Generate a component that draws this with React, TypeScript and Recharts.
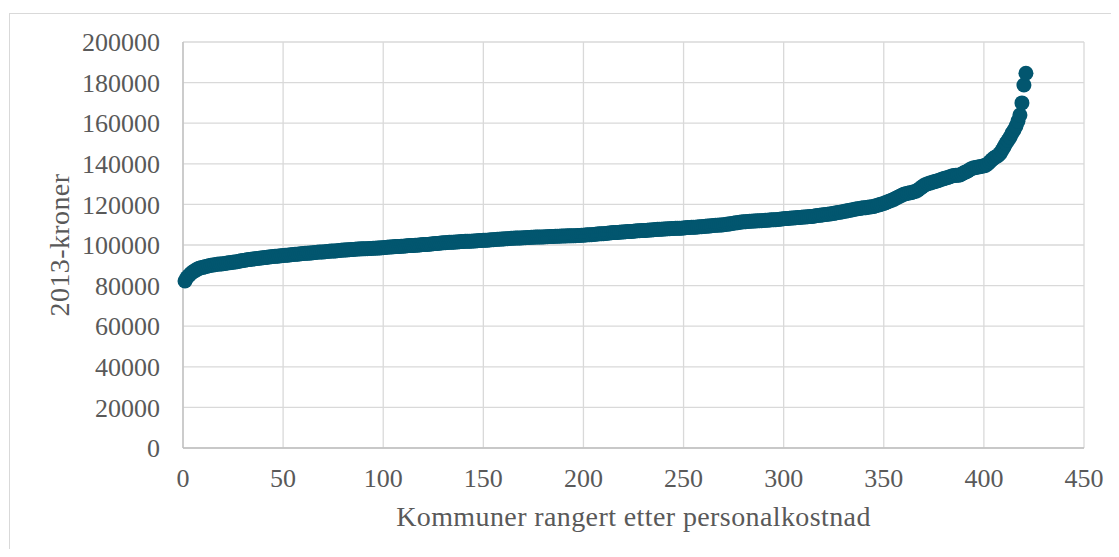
import React from "react";
import { ScatterChart, Scatter, XAxis, YAxis, CartesianGrid } from "recharts";

// Personalkostnad per kommune (2013-kroner), sortert stigende, rang 1..421
const values: number[] = [
  82300, 84000, 85000, 86000, 86800, 87400, 88000, 88500, 88800, 89000,
  89300, 89500, 89800, 90000, 90200, 90300, 90500, 90600, 90700, 90800,
  90900, 91100, 91200, 91400, 91500, 91600, 91800, 92000, 92200, 92400,
  92500, 92700, 92800, 93000, 93100, 93200, 93400, 93500, 93600, 93700,
  93800, 94000, 94100, 94200, 94300, 94400, 94500, 94600, 94700, 94800,
  94900, 95000, 95100, 95200, 95300, 95400, 95500, 95600, 95700, 95800,
  95900, 95900, 96000, 96100, 96200, 96300, 96400, 96500, 96600, 96600,
  96700, 96800, 96900, 97000, 97000, 97100, 97200, 97300, 97400, 97500,
  97500, 97600, 97700, 97800, 97800, 97900, 98000, 98000, 98100, 98100,
  98200, 98200, 98300, 98300, 98400, 98400, 98500, 98500, 98600, 98700,
  98800, 98900, 99000, 99000, 99100, 99200, 99200, 99300, 99400, 99400,
  99500, 99600, 99700, 99700, 99800, 99900, 99900, 100000, 100100, 100200,
  100300, 100300, 100400, 100500, 100600, 100700, 100800, 100900, 101000, 101100,
  101100, 101200, 101300, 101300, 101400, 101500, 101500, 101600, 101700, 101700,
  101800, 101800, 101900, 101900, 102000, 102000, 102100, 102200, 102200, 102300,
  102400, 102400, 102500, 102600, 102600, 102700, 102800, 102800, 102900, 103000,
  103100, 103100, 103200, 103300, 103300, 103400, 103400, 103500, 103500, 103600,
  103600, 103700, 103700, 103800, 103800, 103900, 103900, 104000, 104000, 104000,
  104100, 104100, 104200, 104200, 104200, 104300, 104300, 104300, 104400, 104400,
  104400, 104500, 104500, 104500, 104600, 104600, 104700, 104700, 104800, 104800,
  104900, 105000, 105100, 105100, 105200, 105300, 105400, 105500, 105600, 105600,
  105700, 105800, 105900, 106000, 106100, 106100, 106200, 106300, 106400, 106400,
  106500, 106600, 106700, 106700, 106800, 106900, 107000, 107000, 107100, 107100,
  107200, 107300, 107400, 107400, 107500, 107600, 107700, 107700, 107800, 107900,
  107900, 108000, 108000, 108100, 108100, 108200, 108200, 108300, 108300, 108400,
  108500, 108600, 108600, 108700, 108800, 108800, 108900, 109000, 109000, 109100,
  109200, 109300, 109400, 109500, 109600, 109700, 109700, 109800, 109900, 110000,
  110100, 110300, 110400, 110600, 110700, 110900, 111000, 111200, 111300, 111400,
  111500, 111600, 111700, 111700, 111800, 111800, 111900, 112000, 112000, 112100,
  112200, 112200, 112300, 112400, 112500, 112500, 112600, 112700, 112800, 112900,
  113000, 113100, 113200, 113300, 113300, 113400, 113500, 113600, 113700, 113800,
  113800, 113900, 114000, 114100, 114200, 114400, 114500, 114600, 114800, 114900,
  115000, 115200, 115300, 115400, 115600, 115800, 116000, 116100, 116300, 116500,
  116700, 116900, 117100, 117300, 117500, 117700, 117900, 118000, 118200, 118300,
  118400, 118600, 118700, 118900, 119000, 119300, 119600, 119900, 120200, 120500,
  120900, 121300, 121700, 122100, 122500, 123000, 123500, 124000, 124500, 125000,
  125300, 125500, 125700, 125900, 126200, 126500, 127000, 127800, 128500, 129300,
  129800, 130200, 130500, 130800, 131100, 131400, 131700, 132000, 132400, 132700,
  133000, 133300, 133600, 134000, 134200, 134300, 134400, 134500, 135000, 135600,
  136000, 136500, 137200, 137700, 138000, 138200, 138400, 138600, 138800, 139000,
  139300, 140000, 141000, 142000, 142800, 143500, 144000, 145000, 146500, 148200,
  150000, 151500, 153000, 155000, 156500, 158500, 161000, 164000, 170000, 178800, 184600,
];

const xTicks: number[] = [0, 50, 100, 150, 200, 250, 300, 350, 400, 450];
const yTicks: number[] = [0, 20000, 40000, 60000, 80000, 100000, 120000, 140000, 160000, 180000, 200000];

const xTitle = "Kommuner rangert etter personalkostnad";
const yTitle = "2013-kroner";

const data = values.map((v, i) => ({ rank: i + 1, value: v }));

const FONT = "'Liberation Serif', 'Times New Roman', serif";
const TEXT = "#595959";
const MARK = "#02566F";

const Dot = (props: any) => {
  const { cx, cy } = props;
  if (cx == null || cy == null) return <g />;
  return <circle cx={cx} cy={cy} r={7.5} fill={MARK} />;
};

export default function App() {
  return (
    <div style={{ position: "relative", width: 1103, height: 541 }}>
      <div
        style={{
          position: "absolute",
          left: 1,
          top: 5,
          width: 1109,
          height: 544,
          boxSizing: "border-box",
          border: "1px solid #d9d9d9",
          borderBottom: "none",
        }}
      />
      <div style={{ position: "absolute", left: 0, top: 0 }}>
        <ScatterChart
          width={1103}
          height={537}
          margin={{ top: 34, right: 27, bottom: 0, left: 0 }}
        >
          <CartesianGrid stroke="#d9d9d9" strokeWidth={1.3} />
          <XAxis
            type="number"
            dataKey="rank"
            domain={[0, 450]}
            ticks={xTicks}
            interval={0}
            height={97}
            tickLine={false}
            tickSize={0}
            tickMargin={21}
            axisLine={{ stroke: "#bfbfbf", strokeWidth: 1.3 }}
            tick={{ fill: TEXT, fontSize: 26, fontFamily: FONT }}
            label={{
              content: (p: any) => {
                const vb = p.viewBox || {};
                return (
                  <text
                    x={vb.x + vb.width / 2}
                    y={vb.y + 78}
                    textAnchor="middle"
                    fill={TEXT}
                    fontSize={28}
                    letterSpacing={0.4}
                    fontFamily={FONT}
                  >
                    {xTitle}
                  </text>
                );
              },
            }}
          />
          <YAxis
            type="number"
            dataKey="value"
            domain={[0, 200000]}
            ticks={yTicks}
            interval={0}
            width={175}
            tickLine={false}
            tickSize={0}
            tickMargin={23}
            axisLine={{ stroke: "#bfbfbf", strokeWidth: 1.3 }}
            tick={{ fill: TEXT, fontSize: 26, fontFamily: FONT }}
            label={{
              content: (p: any) => {
                const vb = p.viewBox || {};
                const cx = 61;
                const cy = vb.y + vb.height / 2;
                return (
                  <text
                    x={cx}
                    y={cy}
                    textAnchor="middle"
                    transform={`rotate(-90, ${cx}, ${cy})`}
                    fill={TEXT}
                    fontSize={28}
                    letterSpacing={0.4}
                    fontFamily={FONT}
                  >
                    {yTitle}
                  </text>
                );
              },
            }}
          />
          <Scatter data={data} shape={Dot} isAnimationActive={false} />
        </ScatterChart>
      </div>
    </div>
  );
}
